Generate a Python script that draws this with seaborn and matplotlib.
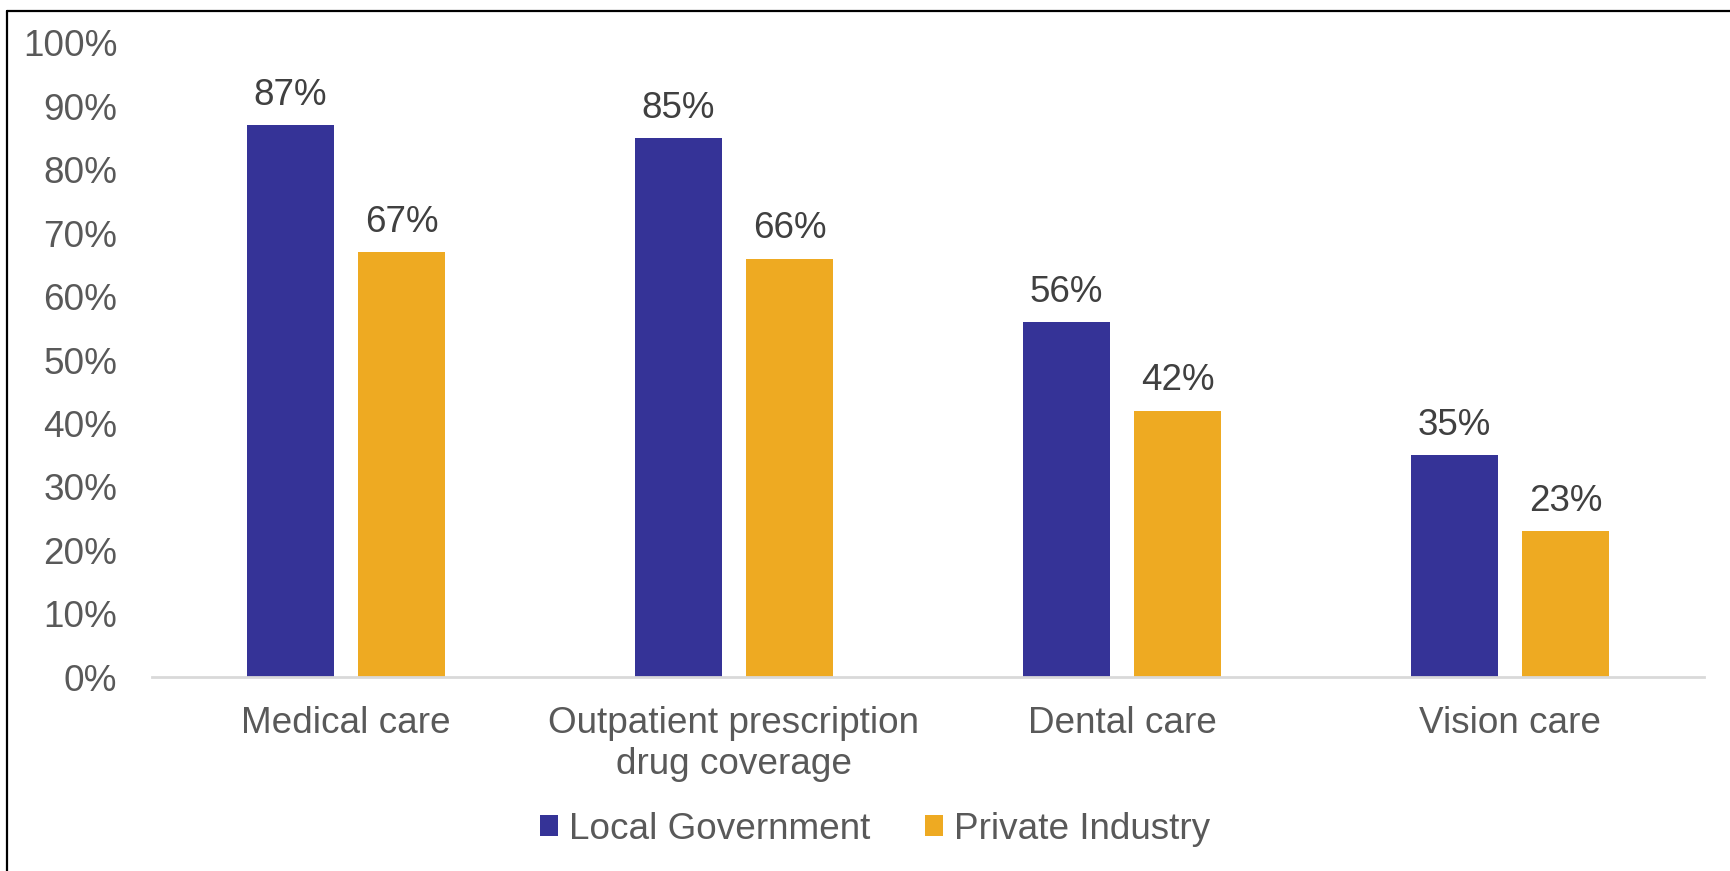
import matplotlib
matplotlib.use("Agg")
import matplotlib.pyplot as plt
from matplotlib.lines import Line2D
from matplotlib.patches import Patch
import seaborn as sns
import pandas as pd

# Share of workers with access to each benefit (%)
categories = ["Medical care", "Outpatient prescription\ndrug coverage", "Dental care", "Vision care"]
local_government = [87, 85, 56, 35]
private_industry = [67, 66, 42, 23]
series_names = ["Local Government", "Private Industry"]
y_ticks = [0, 10, 20, 30, 40, 50, 60, 70, 80, 90, 100]

colors = ["#353397", "#EEAA22"]
tick_color = "#595959"
label_color = "#404040"

df = pd.DataFrame({
    "Category": categories * 2,
    "Percent": local_government + private_industry,
    "Sector": [series_names[0]] * len(categories) + [series_names[1]] * len(categories),
})

sns.set_style("white")
plt.rcParams["font.family"] = ["Liberation Sans", "DejaVu Sans"]

W, H = 1730, 871
fig = plt.figure(figsize=(W / 100, H / 100), dpi=100)
ax = fig.add_axes([152 / W, 1 - 677 / H, (1704 - 152) / W, (677 - 43) / H])

sns.barplot(data=df, x="Category", y="Percent", hue="Sector", palette=colors,
            saturation=1, width=0.572, gap=0.217, linewidth=0, ax=ax, legend=False)

# Value labels above every bar
for container, values in zip(ax.containers, [local_government, private_industry]):
    ax.bar_label(container, labels=[f"{v}%" for v in values], padding=8.8,
                 fontsize=26.5, color=label_color)

ax.set_ylim(0, 100)
ax.set_yticks(y_ticks)
ax.set_yticklabels([f"{t}%" for t in y_ticks])
ax.set_xlabel("")
ax.set_ylabel("")
ax.tick_params(axis="y", length=0, pad=25, labelsize=26.6, labelcolor=tick_color)
ax.tick_params(axis="x", length=0, pad=21, labelsize=26.6, labelcolor=tick_color)
for lbl in ax.get_xticklabels():
    lbl.set_linespacing(1.22)

for side in ["left", "right", "top"]:
    ax.spines[side].set_visible(False)
ax.spines["bottom"].set_color("#D9D9D9")
ax.spines["bottom"].set_linewidth(2.0)
ax.grid(False)

handles = [Patch(facecolor=c, edgecolor="none") for c in colors]
fig.legend(handles, series_names, loc="center", bbox_to_anchor=(875 / W, 1 - 829 / H),
           ncol=2, frameon=False, fontsize=26.6, labelcolor=tick_color,
           handlelength=0.48, handleheight=0.48, handletextpad=0.3,
           columnspacing=1.49, borderpad=0, borderaxespad=0)

# Outer frame along the left and top edges
fig.add_artist(Line2D([7.5 / W, 7.5 / W], [0, 1 - 11 / H], transform=fig.transFigure,
                      color="black", linewidth=1.6))
fig.add_artist(Line2D([7.5 / W, 1], [1 - 11 / H, 1 - 11 / H], transform=fig.transFigure,
                      color="black", linewidth=1.6))

fig.savefig("out.png", dpi=100)
